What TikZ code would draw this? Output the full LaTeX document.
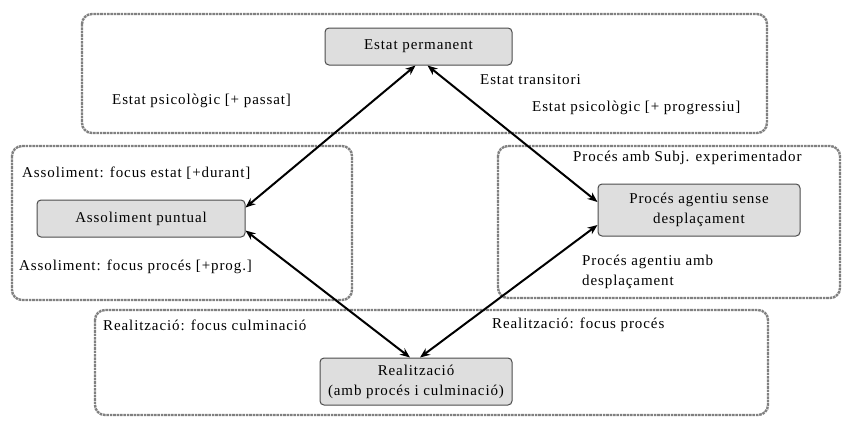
\documentclass[tikz,border=0pt]{standalone}
\usepackage{fontspec}
\setmainfont[LetterSpace=6]{Liberation Serif}
\usetikzlibrary{arrows.meta}
\begin{document}
\begin{tikzpicture}[x=1pt,y=-1pt,
  grp/.style={draw=black!50,line width=2.4pt,dash pattern=on 2.6pt off 0.8pt,rounded corners=10pt},
  box/.style={draw=black!70,fill=black!13,line width=1pt,rounded corners=4pt,inner sep=0pt,align=center,font=\fontsize{15}{20}\selectfont},
  lbl/.style={inner sep=0pt,anchor=west,font=\fontsize{15}{20}\selectfont,align=left},
  arr/.style={{Stealth[length=10pt,width=8pt]}-{Stealth[length=10pt,width=8pt]},line width=2pt}]
\useasboundingbox (0,0) rectangle (844,421);
\draw[grp] (82,14) rectangle (767,133);
\draw[grp] (12,146) rectangle (352,300);
\draw[grp] (498,146) rectangle (840,298);
\draw[grp] (95,310) rectangle (768,415);
\node[box,minimum width=187pt,minimum height=37pt] (ep) at (418.5,46.5) {Estat permanent};
\node[box,minimum width=208pt,minimum height=37pt] (ap) at (141,218.5) {Assoliment puntual};
\node[box,minimum width=202pt,minimum height=52pt] (pa) at (699,210) {Procés agentiu sense\\desplaçament};
\node[box,minimum width=192pt,minimum height=47pt] (re) at (416,381.5) {Realització\\(amb procés i culminació)};
\node[lbl] (t1) at (480,80) {Estat transitori};
\node[lbl] (t2) at (112,101) {Estat psicològic [+ passat]};
\node[lbl] (t3) at (532,108) {Estat psicològic [+ progressiu]};
\node[lbl] (t4) at (22,173) {Assoliment: focus estat [+durant]};
\node[lbl] (t5) at (19,267) {Assoliment: focus procés [+prog.]};
\node[lbl] (t6) at (573,158) {Procés amb Subj. experimentador};
\node[lbl] (t7) at (582,271.5) {Procés agentiu amb\\desplaçament};
\node[lbl] (t8) at (103,325) {Realització: focus culminació};
\node[lbl] (t9) at (492,325) {Realització: focus procés};
\draw[arr] ([xshift=-3pt]ep.south) -- ([yshift=11pt]ap.east);
\draw[arr] ([xshift=9pt]ep.south) -- ([yshift=8pt]pa.west);
\draw[arr] ([yshift=-12pt]ap.east) -- ([xshift=-6pt]re.north);
\draw[arr] ([yshift=-15pt]pa.west) -- ([xshift=4pt]re.north);
\end{tikzpicture}
\end{document}
